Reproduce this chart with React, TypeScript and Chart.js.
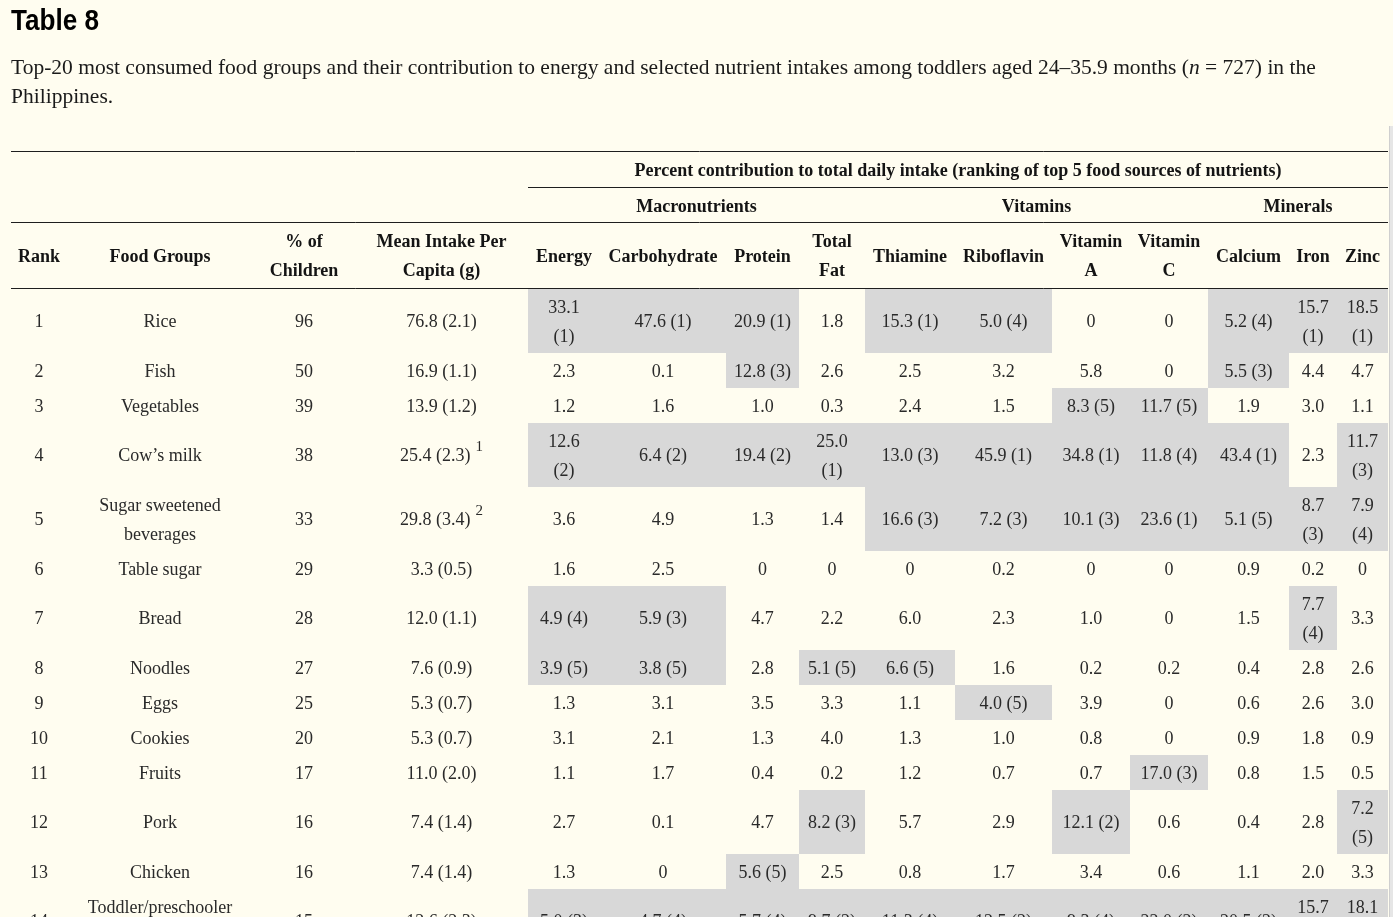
import React, { useEffect, useRef } from "react";
import { Chart, registerables } from "chart.js";

Chart.register(...registerables);

// ---------------- data ----------------
const ranks = ["1", "2", "3", "4", "5", "6", "7", "8", "9", "10", "11", "12", "13", "14"];
const foodGroups = [
  "Rice", "Fish", "Vegetables", "Cow’s milk", "Sugar sweetened beverages", "Table sugar", "Bread",
  "Noodles", "Eggs", "Cookies", "Fruits", "Pork", "Chicken", "Toddler/preschooler milk",
];
const pctChildren = ["96", "50", "39", "38", "33", "29", "28", "27", "25", "20", "17", "16", "16", "15"];
const meanIntake = [
  "76.8 (2.1)", "16.9 (1.1)", "13.9 (1.2)", "25.4 (2.3)", "29.8 (3.4)", "3.3 (0.5)", "12.0 (1.1)",
  "7.6 (0.9)", "5.3 (0.7)", "5.3 (0.7)", "11.0 (2.0)", "7.4 (1.4)", "7.4 (1.4)", "12.6 (2.3)",
];
const meanNotes = ["", "", "", "1", "2", "", "", "", "", "", "", "", "", ""];
const energy = ["33.1 (1)", "2.3", "1.2", "12.6 (2)", "3.6", "1.6", "4.9 (4)", "3.9 (5)", "1.3", "3.1", "1.1", "2.7", "1.3", "5.0 (3)"];
const carbohydrate = ["47.6 (1)", "0.1", "1.6", "6.4 (2)", "4.9", "2.5", "5.9 (3)", "3.8 (5)", "3.1", "2.1", "1.7", "0.1", "0", "4.7 (4)"];
const protein = ["20.9 (1)", "12.8 (3)", "1.0", "19.4 (2)", "1.3", "0", "4.7", "2.8", "3.5", "1.3", "0.4", "4.7", "5.6 (5)", "5.7 (4)"];
const totalFat = ["1.8", "2.6", "0.3", "25.0 (1)", "1.4", "0", "2.2", "5.1 (5)", "3.3", "4.0", "0.2", "8.2 (3)", "2.5", "9.7 (2)"];
const thiamine = ["15.3 (1)", "2.5", "2.4", "13.0 (3)", "16.6 (3)", "0", "6.0", "6.6 (5)", "1.1", "1.3", "1.2", "5.7", "0.8", "11.3 (4)"];
const riboflavin = ["5.0 (4)", "3.2", "1.5", "45.9 (1)", "7.2 (3)", "0.2", "2.3", "1.6", "4.0 (5)", "1.0", "0.7", "2.9", "1.7", "12.5 (2)"];
const vitaminA = ["0", "5.8", "8.3 (5)", "34.8 (1)", "10.1 (3)", "0", "1.0", "0.2", "3.9", "0.8", "0.7", "12.1 (2)", "3.4", "9.3 (4)"];
const vitaminC = ["0", "0", "11.7 (5)", "11.8 (4)", "23.6 (1)", "0", "0", "0.2", "0", "0", "17.0 (3)", "0.6", "0.6", "22.0 (2)"];
const calcium = ["5.2 (4)", "5.5 (3)", "1.9", "43.4 (1)", "5.1 (5)", "0.9", "1.5", "0.4", "0.6", "0.9", "0.8", "0.4", "1.1", "20.5 (2)"];
const iron = ["15.7 (1)", "4.4", "3.0", "2.3", "8.7 (3)", "0.2", "7.7 (4)", "2.8", "2.6", "1.8", "1.5", "2.8", "2.0", "15.7 (2)"];
const zinc = ["18.5 (1)", "4.7", "1.1", "11.7 (3)", "7.9 (4)", "0", "3.3", "2.6", "3.0", "0.9", "0.5", "7.2 (5)", "3.3", "18.1 (2)"];

const titleText = "Table 8";
const headerTitle = "Percent contribution to total daily intake (ranking of top 5 food sources of nutrients)";
const groupHeaders = ["Macronutrients", "Vitamins", "Minerals"];
const columnHeaders = [
  "Rank", "Food Groups", "% of Children", "Mean Intake Per Capita (g)", "Energy", "Carbohydrate", "Protein",
  "Total Fat", "Thiamine", "Riboflavin", "Vitamin A", "Vitamin C", "Calcium", "Iron", "Zinc",
];

// ---------------- layout / style ----------------
const PAGE_W = 1393;
const PAGE_H = 917;
const BG = "#FFFDF0";
const CELL_GRAY = "#D8D8D8";
const RULE_COLOR = "#1e1e1e";
const TEXT_COLOR = "#2a2a2a";
const HEAD_COLOR = "#141414";
const COL_EDGES = [11, 67, 253, 355, 528, 600, 726, 799, 865, 955, 1052, 1130, 1208, 1289, 1337, 1388];
const CELL_WRAP = [999, 150, 999, 999, 52, 999, 999, 52, 999, 999, 999, 999, 999, 30, 30];
const HEAD_WRAP = [999, 999, 60, 140, 999, 999, 999, 50, 999, 999, 70, 70, 999, 999, 999];
const GROUP_SPANS = [[4, 8], [8, 12], [12, 15]];
const FIRST_DATA_COL = 4;
const RULES = [
  { y: 151, from: 0, to: 15 },
  { y: 187, from: 4, to: 15 },
  { y: 222, from: 0, to: 15 },
  { y: 288, from: 0, to: 15 },
];
const BODY_TOP = 289;
const ROW_H1 = 35;
const ROW_H2 = 64;
const LINE_GAP = 29;
const TEXT_SHIFT = 1.5;
const SERIF = "'Liberation Serif', 'Times New Roman', serif";
const BODY_FONT = `18px ${SERIF}`;
const HEAD_FONT = `bold 18px ${SERIF}`;
const NOTE_FONT = `15px ${SERIF}`;

const columns = [
  ranks, foodGroups, pctChildren, meanIntake, energy, carbohydrate, protein, totalFat,
  thiamine, riboflavin, vitaminA, vitaminC, calcium, iron, zinc,
];

function wrapText(ctx: CanvasRenderingContext2D, text: string, maxW: number): string[] {
  const words = text.split(" ");
  const lines: string[] = [];
  let cur = "";
  for (const w of words) {
    const t = cur ? cur + " " + w : w;
    if (cur && ctx.measureText(t).width > maxW) {
      lines.push(cur);
      cur = w;
    } else {
      cur = t;
    }
  }
  if (cur) lines.push(cur);
  return lines;
}

const colCenter = (c: number) => (COL_EDGES[c] + COL_EDGES[c + 1]) / 2;

export default function App() {
  const ref = useRef<HTMLCanvasElement | null>(null);

  useEffect(() => {
    document.body.style.margin = "0";
    document.body.style.background = BG;
    const canvas = ref.current;
    if (!canvas) return;

    const mctx = document.createElement("canvas").getContext("2d") as CanvasRenderingContext2D;
    mctx.font = BODY_FONT;
    const cellLines: string[][][] = ranks.map((_, r) =>
      columns.map((col, c) => wrapText(mctx, col[r], CELL_WRAP[c]))
    );
    const rowTops: number[] = [];
    const rowBottoms: number[] = [];
    let y = BODY_TOP;
    cellLines.forEach((row) => {
      const n = Math.max(...row.map((l) => l.length));
      const h = n > 1 ? ROW_H2 : ROW_H1;
      rowTops.push(y);
      rowBottoms.push(y + h);
      y += h;
    });

    // highlighted cells (ranked top-5 sources) as floating bars, one dataset per nutrient column
    const barDatasets: any[] = [];
    for (let c = FIRST_DATA_COL; c < columns.length; c++) {
      const pts: any[] = [];
      columns[c].forEach((v, r) => {
        if (v.includes("(")) pts.push({ x: colCenter(c), y: [rowTops[r], rowBottoms[r]] });
      });
      if (!pts.length) continue;
      barDatasets.push({
        type: "bar",
        data: pts,
        backgroundColor: CELL_GRAY,
        borderWidth: 0,
        barThickness: COL_EDGES[c + 1] - COL_EDGES[c],
        inflateAmount: 0,
        stack: "cells",
        order: 2,
      });
    }

    const lineDatasets = RULES.map((rule) => ({
      type: "line",
      data: [
        { x: COL_EDGES[rule.from], y: rule.y + 0.5 },
        { x: COL_EDGES[rule.to], y: rule.y + 0.5 },
      ],
      borderColor: RULE_COLOR,
      borderWidth: 1,
      pointRadius: 0,
      fill: false,
      tension: 0,
      order: 1,
    }));

    const textPlugin = {
      id: "tableText",
      afterDatasetsDraw(chart: any) {
        const ctx: CanvasRenderingContext2D = chart.ctx;
        const xs = chart.scales.x;
        const ys = chart.scales.y;
        const px = (v: number) => xs.getPixelForValue(v);
        const py = (v: number) => ys.getPixelForValue(v + TEXT_SHIFT);
        ctx.save();
        ctx.textAlign = "center";
        ctx.textBaseline = "middle";

        const drawLines = (lines: string[], cx: number, cy: number) => {
          const n = lines.length;
          lines.forEach((ln, i) => {
            ctx.fillText(ln, px(cx), py(cy + (i - (n - 1) / 2) * LINE_GAP));
          });
        };

        // header
        ctx.font = HEAD_FONT;
        ctx.fillStyle = HEAD_COLOR;
        drawLines([headerTitle], (COL_EDGES[FIRST_DATA_COL] + COL_EDGES[15]) / 2, (RULES[0].y + RULES[1].y) / 2 + 0.5);
        groupHeaders.forEach((g, i) => {
          const [a, b] = GROUP_SPANS[i];
          drawLines([g], (COL_EDGES[a] + COL_EDGES[b]) / 2, (RULES[1].y + RULES[2].y) / 2 + 1);
        });
        columnHeaders.forEach((h, c) => {
          drawLines(wrapText(ctx, h, HEAD_WRAP[c]), colCenter(c), (RULES[2].y + RULES[3].y) / 2 + 0.5);
        });

        // body
        ctx.fillStyle = TEXT_COLOR;
        cellLines.forEach((row, r) => {
          const cy = (rowTops[r] + rowBottoms[r]) / 2;
          row.forEach((lines, c) => {
            ctx.font = BODY_FONT;
            if (c === 3 && meanNotes[r]) {
              const main = lines.join(" ");
              const w1 = ctx.measureText(main).width;
              ctx.font = NOTE_FONT;
              const w2 = ctx.measureText(meanNotes[r]).width;
              const gap = 5;
              const start = colCenter(c) - (w1 + gap + w2) / 2;
              ctx.textAlign = "left";
              ctx.font = BODY_FONT;
              ctx.fillText(main, px(start), py(cy));
              ctx.font = NOTE_FONT;
              ctx.fillText(meanNotes[r], px(start + w1 + gap), py(cy - 9));
              ctx.textAlign = "center";
            } else {
              drawLines(lines, colCenter(c), cy);
            }
          });
        });
        ctx.restore();
      },
    };

    const chart = new Chart(canvas, {
      type: "bar",
      data: { datasets: [...barDatasets, ...lineDatasets] as any },
      options: {
        animation: false,
        responsive: false,
        devicePixelRatio: 1,
        events: [],
        layout: { padding: 0 },
        plugins: {
          legend: { display: false },
          tooltip: { enabled: false },
          title: { display: false },
        },
        scales: {
          x: { type: "linear", min: 0, max: PAGE_W, display: false, offset: false, grid: { display: false } },
          y: {
            type: "linear",
            min: 0,
            max: PAGE_H,
            reverse: true,
            display: false,
            stacked: false,
            beginAtZero: false,
            grid: { display: false },
          },
        },
      } as any,
      plugins: [textPlugin],
    });
    return () => chart.destroy();
  }, []);

  return (
    <div
      style={{
        position: "fixed",
        left: 0,
        top: 0,
        width: PAGE_W,
        height: PAGE_H,
        overflow: "hidden",
        background: BG,
      }}
    >
      <canvas
        ref={ref}
        width={PAGE_W}
        height={PAGE_H}
        style={{ position: "absolute", left: 0, top: 0, width: PAGE_W, height: PAGE_H }}
      />
      <div
        style={{
          position: "absolute",
          left: 11,
          top: 4,
          font: "bold 30px 'Liberation Sans', Arial, sans-serif",
          lineHeight: "32px",
          color: "#000",
          whiteSpace: "nowrap",
          transform: "scaleX(0.87)",
          transformOrigin: "left top",
        }}
      >
        {titleText}
      </div>
      <div
        style={{
          position: "absolute",
          left: 11,
          top: 53,
          width: 1372,
          font: `21.5px ${SERIF}`,
          lineHeight: "29px",
          color: "#1a1a1a",
        }}
      >
        Top-20 most consumed food groups and their contribution to energy and selected nutrient intakes among
        toddlers aged 24–35.9 months (<i>n</i> = 727) in the Philippines.
      </div>
      <div
        style={{
          position: "absolute",
          left: 1389,
          top: 126,
          width: 4,
          height: PAGE_H - 126,
          background: "#e6e6e6",
          borderLeft: "1px solid #cfcfcf",
          boxSizing: "border-box",
        }}
      />
    </div>
  );
}
